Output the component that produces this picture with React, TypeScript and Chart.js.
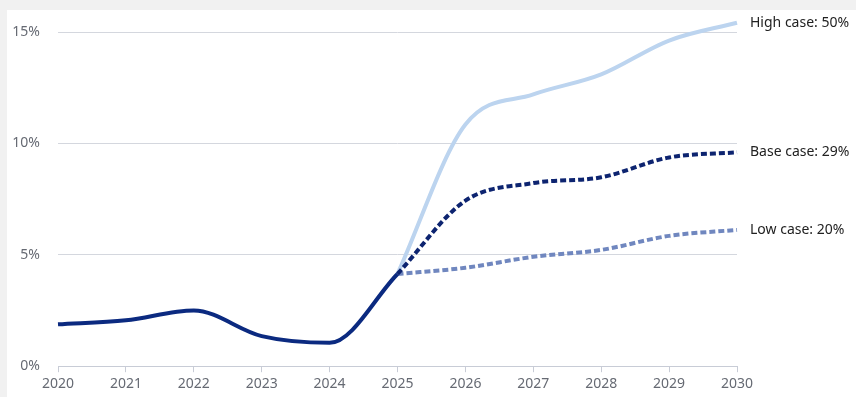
import React, { useEffect, useRef } from "react";
import { Chart, registerables } from "chart.js";

Chart.register(...registerables);

const years = ["2020", "2021", "2022", "2023", "2024", "2025", "2026", "2027", "2028", "2029", "2030"];
const historical = [1.88, 2.06, 2.5, 1.35, 1.05, 4.14, null, null, null, null, null];
const highCase = [null, null, null, null, null, 4.14, 10.85, 12.2, 13.1, 14.62, 15.42];
const baseCase = [null, null, null, null, null, 4.14, 7.43, 8.22, 8.48, 9.37, 9.6];
const lowCase = [null, null, null, null, null, 4.14, 4.42, 4.91, 5.22, 5.85, 6.12];
const yTicks = [0, 5, 10, 15];
const endLabels = ["High case: 50%", "Base case: 29%", "Low case: 20%"];

const FONT = "'Noto Sans', 'Open Sans', sans-serif";

const endLabelPlugin = {
  id: "endLabels",
  afterDatasetsDraw(chart: any) {
    const ctx = chart.ctx;
    ctx.save();
    ctx.font = `14px ${FONT}`;
    ctx.fillStyle = "#222222";
    ctx.textAlign = "left";
    ctx.textBaseline = "middle";
    [1, 2, 3].forEach((di, i) => {
      const meta = chart.getDatasetMeta(di);
      const pt = meta.data[meta.data.length - 1];
      if (pt) ctx.fillText(endLabels[i], pt.x + 13, pt.y);
    });
    ctx.restore();
  },
};

export default function App() {
  const ref = useRef<HTMLCanvasElement | null>(null);
  useEffect(() => {
    document.body.style.margin = "0";
    document.body.style.background = "#f1f1f1";
    if (!ref.current) return;
    const common = {
      pointRadius: 0,
      pointHoverRadius: 0,
      borderWidth: 4,
      fill: false,
      cubicInterpolationMode: "monotone" as const,
      spanGaps: false,
    };
    const chart = new Chart(ref.current, {
      type: "line",
      data: {
        labels: years,
        datasets: [
          { ...common, data: historical, borderColor: "#0b2a80", order: 0 },
          { ...common, data: highCase, borderColor: "#bcd4ef", order: 3 },
          { ...common, data: baseCase, borderColor: "#0d2470", borderDash: [6, 3], order: 1 },
          { ...common, data: lowCase, borderColor: "#7087bf", borderDash: [6, 3], order: 2 },
        ],
      },
      options: {
        responsive: false,
        animation: false,
        layout: { autoPadding: false, padding: { top: 2, right: 119, left: 0, bottom: 2 } },
        plugins: { legend: { display: false }, tooltip: { enabled: false } },
        scales: {
          x: {
            grid: { drawOnChartArea: false, drawTicks: true, tickLength: 6, color: "#c8ccd6" },
            border: { display: true, color: "#c8ccd6", width: 1 },
            ticks: { color: "#666a73", font: { family: FONT, size: 14 }, padding: 3, maxRotation: 0 },
            afterFit: (s: any) => {
              s.paddingLeft = 0;
              s.paddingRight = 0;
            },
          },
          y: {
            min: 0,
            max: 15.9,
            afterBuildTicks: (s: any) => {
              s.ticks = yTicks.map((v) => ({ value: v }));
            },
            afterFit: (s: any) => {
              s.width = 51;
              s.paddingTop = 0;
              s.paddingBottom = 0;
            },
            grid: { drawTicks: false, color: "#d4d7de" },
            border: { display: false },
            ticks: {
              color: "#666a73",
              font: { family: FONT, size: 14 },
              padding: 18,
              callback: (v: any) => `${v}%`,
            },
          },
        },
      },
      plugins: [endLabelPlugin],
    });
    return () => chart.destroy();
  }, []);
  return (
    <div style={{ paddingLeft: 7, paddingTop: 10 }}>
      <div style={{ background: "#ffffff", width: 849, height: 387 }}>
        <canvas ref={ref} width={849} height={387} style={{ display: "block" }} />
      </div>
    </div>
  );
}
